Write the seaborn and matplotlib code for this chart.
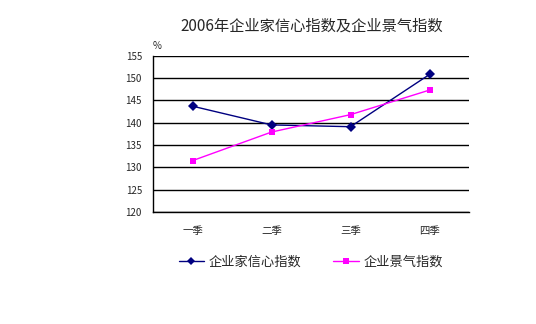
import matplotlib
matplotlib.use("Agg")
import matplotlib.pyplot as plt
import seaborn as sns
import pandas as pd

quarters = ["一季", "二季", "三季", "四季"]
confidence = [143.7, 139.5, 139.1, 150.8]
climate = [131.5, 137.9, 141.8, 147.3]
series_names = ["企业家信心指数", "企业景气指数"]
y_ticks = [120, 125, 130, 135, 140, 145, 150, 155]
title = "2006年企业家信心指数及企业景气指数"

sns.set_theme(style="white")
plt.rcParams["font.family"] = ["Noto Sans CJK SC", "DejaVu Sans"]

df = pd.DataFrame({
    "pos": list(range(len(quarters))) * 2,
    "value": confidence + climate,
    "series": [series_names[0]] * len(quarters) + [series_names[1]] * len(quarters),
})

fig = plt.figure(figsize=(5.36, 3.24), dpi=100)
ax = fig.add_axes([153 / 536, 1 - 212 / 324, 316 / 536, (212 - 55.7) / 324])

palette = {series_names[0]: "#000080", series_names[1]: "#FF00FF"}
markers = {series_names[0]: "D", series_names[1]: "s"}
sns.lineplot(data=df, x="pos", y="value", hue="series", style="series",
             palette=palette, markers=markers, dashes=False, linewidth=1,
             markersize=5, markeredgewidth=0, ax=ax)

ax.set_xlim(-0.5, len(quarters) - 0.5)
ax.set_ylim(y_ticks[0], y_ticks[-1])
ax.set_yticks(y_ticks)
ax.set_yticklabels([str(v) for v in y_ticks], fontsize=7)
ax.set_xticks(range(len(quarters)))
ax.set_xticklabels(quarters, fontsize=7.5)
ax.tick_params(axis="x", length=0, pad=10)
ax.tick_params(axis="y", length=0, pad=8)
# boundary ticks between categories
ax.set_xticks([i + 0.5 for i in range(len(quarters) - 1)], minor=True)
ax.tick_params(axis="x", which="minor", direction="in", length=3, width=0.8, color="black")
ax.grid(axis="y", color="black", linewidth=1)
ax.set_axisbelow(True)
ax.set_xlabel("")
ax.set_ylabel("")
for side in ("top", "right"):
    ax.spines[side].set_visible(False)
for side in ("left", "bottom"):
    ax.spines[side].set_color("black")
    ax.spines[side].set_linewidth(1)

ax.text(0.0, 1.03, "%", transform=ax.transAxes, fontsize=7, ha="left", va="bottom")

fig.text(312 / 536, 1 - 26 / 324, title, ha="center", va="center", fontsize=11)

handles, labels = ax.get_legend_handles_labels()
ax.legend(handles, labels, loc="center", bbox_to_anchor=(0.5, -0.32), ncol=2,
          frameon=False, fontsize=9.5, handlelength=1.9, columnspacing=2.4,
          handletextpad=0.4, markerscale=0.9)

fig.savefig("out.png", dpi=100)
